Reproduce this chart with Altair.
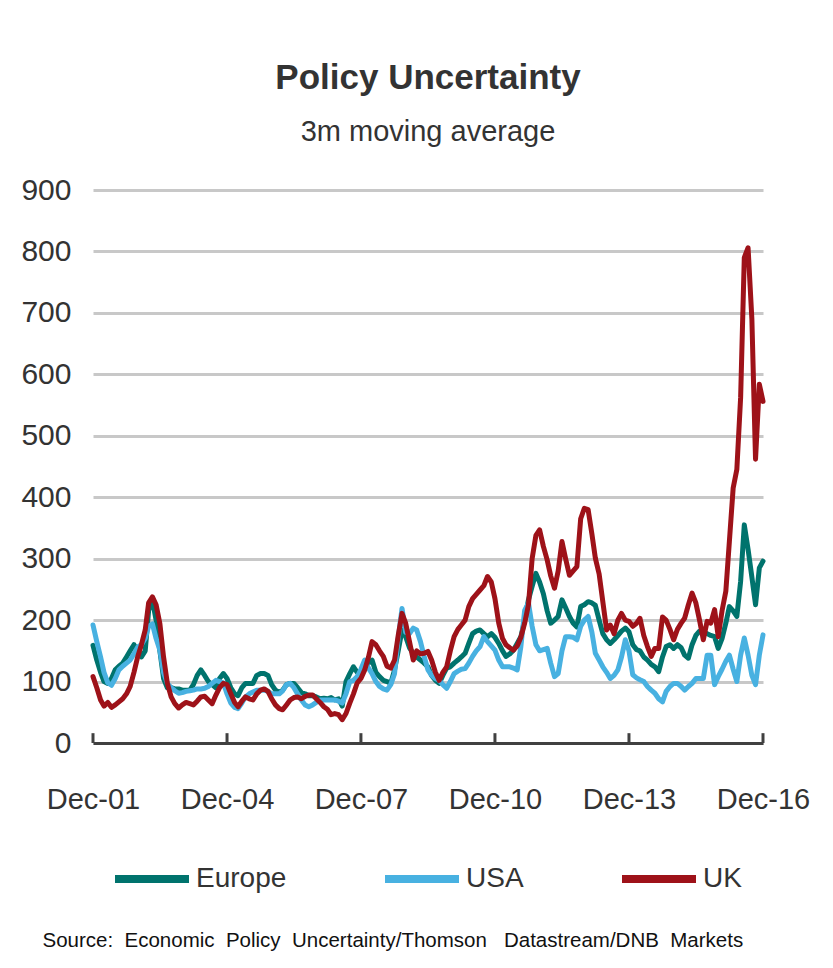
import altair as alt
import pandas as pd

# ---- data (monthly, Dec-01 .. Dec-16) ----
europe = [159, 135, 115, 100, 97, 105, 119, 125, 130, 140, 150, 160, 150, 140, 150, 216, 232, 200, 150, 105,
          90, 90, 88, 88, 86, 86, 86, 95, 110, 119, 110, 100, 95, 90, 105, 113, 105, 90, 80, 77,
          90, 97, 97, 97, 110, 113, 113, 110, 95, 86, 82, 86, 95, 97, 97, 90, 82, 80, 77, 77,
          75, 72, 73, 72, 74, 70, 72, 60, 100, 113, 124, 115, 110, 124, 130, 135, 115, 108, 102, 100,
          97, 119, 150, 184, 173, 155, 146, 140, 135, 130, 124, 110, 102, 97, 110, 122, 124, 130, 135, 140,
          146, 162, 178, 182, 184, 178, 173, 178, 172, 162, 150, 141, 145, 151, 162, 173, 200, 233, 255, 276,
          262, 243, 215, 195, 200, 206, 233, 220, 206, 195, 189, 222, 225, 230, 228, 224, 200, 178, 168, 162,
          168, 175, 182, 187, 181, 160, 152, 150, 140, 135, 128, 124, 116, 140, 157, 160, 154, 160, 155, 143,
          138, 160, 175, 182, 180, 178, 175, 173, 154, 170, 195, 222, 215, 206, 263, 355, 315, 270, 225, 285,
          296]
usa = [192, 165, 140, 115, 98, 94, 105, 119, 125, 130, 135, 145, 156, 160, 170, 190, 194, 170, 151, 115,
       97, 90, 85, 81, 82, 84, 85, 86, 88, 88, 89, 92, 97, 102, 100, 98, 80, 65, 58, 56,
       65, 75, 80, 83, 86, 86, 86, 84, 80, 80, 80, 85, 95, 97, 90, 80, 70, 62, 59, 62,
       66, 70, 70, 70, 70, 70, 68, 65, 80, 100, 102, 108, 120, 135, 122, 113, 100, 92, 88, 86,
       95, 113, 170, 219, 180, 178, 187, 184, 165, 141, 119, 110, 105, 102, 95, 89, 100, 113, 117, 120,
       121, 130, 141, 150, 157, 173, 165, 158, 151, 135, 124, 124, 124, 122, 119, 157, 216, 228, 190, 160,
       150, 152, 154, 130, 108, 113, 150, 173, 173, 172, 168, 190, 200, 206, 180, 146, 135, 124, 115, 105,
       110, 119, 140, 168, 150, 111, 106, 103, 100, 92, 86, 81, 72, 67, 84, 92, 97, 97, 92, 86,
       92, 97, 105, 105, 105, 143, 143, 95, 108, 120, 133, 143, 120, 100, 143, 171, 143, 110, 95, 143,
       176]
uk = [108, 90, 70, 60, 66, 58, 62, 67, 72, 80, 92, 115, 140, 160, 184, 228, 238, 225, 194, 140,
      97, 75, 64, 57, 62, 66, 64, 62, 68, 75, 76, 70, 64, 78, 90, 97, 95, 80, 66, 59,
      68, 75, 72, 70, 80, 86, 88, 84, 72, 62, 56, 54, 62, 70, 74, 75, 72, 76, 78, 78,
      72, 66, 59, 55, 46, 48, 46, 38, 48, 65, 80, 98, 105, 119, 140, 165, 160, 150, 141, 125,
      122, 135, 175, 211, 195, 165, 135, 150, 145, 146, 149, 135, 115, 102, 115, 124, 150, 173, 185, 192,
      200, 222, 235, 242, 249, 256, 271, 262, 235, 195, 170, 160, 155, 151, 158, 172, 195, 225, 300, 338,
      347, 320, 298, 272, 252, 280, 328, 300, 273, 280, 287, 365, 382, 380, 340, 301, 275, 230, 184, 192,
      178, 200, 211, 200, 198, 190, 195, 203, 175, 157, 141, 154, 154, 205, 200, 185, 168, 185, 195, 203,
      225, 244, 228, 200, 168, 198, 195, 217, 173, 215, 247, 328, 415, 445, 562, 790, 806, 690, 462, 584,
      556]
series_names = ["Europe", "USA", "UK"]
series_colors = ["#00736D", "#48B1E1", "#9E1219"]
tick_years = [2001, 2004, 2007, 2010, 2013, 2016]
y_ticks = [0, 100, 200, 300, 400, 500, 600, 700, 800, 900]

FONT = "Liberation Sans, Arial, sans-serif"
TXT = "#333333"
NB = "\u00a0"
source_text = (f"Source:{NB} Economic{NB} Policy{NB} Uncertainty/Thomson{NB}{NB} "
               f"Datastream/DNB{NB} Markets")

dates = [d.strftime("%Y-%m-%dT00:00:00") for d in pd.date_range("2001-12-01", periods=181, freq="MS")]
df = pd.DataFrame({
    "date": dates * 3,
    "value": europe + usa + uk,
    "series": ["Europe"] * 181 + ["USA"] * 181 + ["UK"] * 181,
})
ticks_df = pd.DataFrame({"date": [f"{y}-12-01T00:00:00" for y in tick_years], "y0": 0, "y1": 16})

x_scale = alt.Scale(domain=[alt.DateTime(year=2001, month=12, date=1), alt.DateTime(year=2016, month=12, date=1)])
y_scale = alt.Scale(domain=[0, 900])
color_scale = alt.Scale(domain=series_names, range=series_colors)

x_axis = alt.Axis(
    values=[alt.DateTime(year=y, month=12, date=1) for y in tick_years],
    format="%b-%y", labelFontSize=29, labelPadding=42, labelColor=TXT, labelFont=FONT,
    ticks=False, grid=False, domain=True, domainColor="#404040", domainWidth=3,
    labelOverlap=False, labelFlush=False,
    title=source_text,
    titleFont=FONT, titleFontSize=20.5, titleFontWeight="normal", titleColor="#111111",
    titleAnchor="start", titleAlign="left", titleX=-51, titleY=203, titleBaseline="alphabetic",
)
y_axis = alt.Axis(
    values=y_ticks, labelFontSize=30, labelPadding=22, labelColor=TXT, labelFont=FONT,
    ticks=False, domain=False, grid=True, gridColor="#C8C8C8", gridWidth=3, title=None,
)
legend = alt.Legend(
    title=None, orient="none", legendX=18, legendY=648, direction="horizontal",
    columns=3, symbolType="stroke", symbolSize=5476, symbolStrokeWidth=8,
    labelFontSize=28, labelFont=FONT, labelColor=TXT, columnPadding=82,
    labelOffset=3, labelLimit=300,
)

base = alt.Chart(df)
layers = []
for i, name in enumerate(series_names):
    if i == 0:
        enc = dict(
            x=alt.X("date:T", scale=x_scale, axis=x_axis),
            y=alt.Y("value:Q", scale=y_scale, axis=y_axis),
            color=alt.Color("series:N", scale=color_scale, legend=legend),
        )
    else:
        enc = dict(
            x=alt.X("date:T", scale=x_scale),
            y=alt.Y("value:Q", scale=y_scale),
            color=alt.Color("series:N", scale=color_scale),
        )
    layers.append(
        base.transform_filter(alt.datum.series == name)
        .mark_line(strokeWidth=5, strokeJoin="round", strokeCap="round")
        .encode(**enc)
    )

tick_rules = alt.Chart(ticks_df).mark_rule(color="#404040", strokeWidth=3).encode(
    x=alt.X("date:T", scale=x_scale), y=alt.Y("y0:Q", scale=y_scale), y2="y1:Q"
)

chart = alt.layer(*layers, tick_rules).properties(
    width=670, height=553,
    title=alt.TitleParams("Policy Uncertainty", subtitle="3m moving average", anchor="middle",
                          font=FONT, fontSize=35, fontWeight="bold", color=TXT,
                          subtitleFont=FONT, subtitleFontSize=29, subtitleColor=TXT,
                          subtitlePadding=22, offset=28),
    autosize=alt.AutoSizeParams(type="none"),
    padding={"left": 85, "top": 182, "right": 60, "bottom": 215},
).configure_view(stroke=None)

chart.save("out.html", embed_options={"renderer": "svg", "actions": False})
